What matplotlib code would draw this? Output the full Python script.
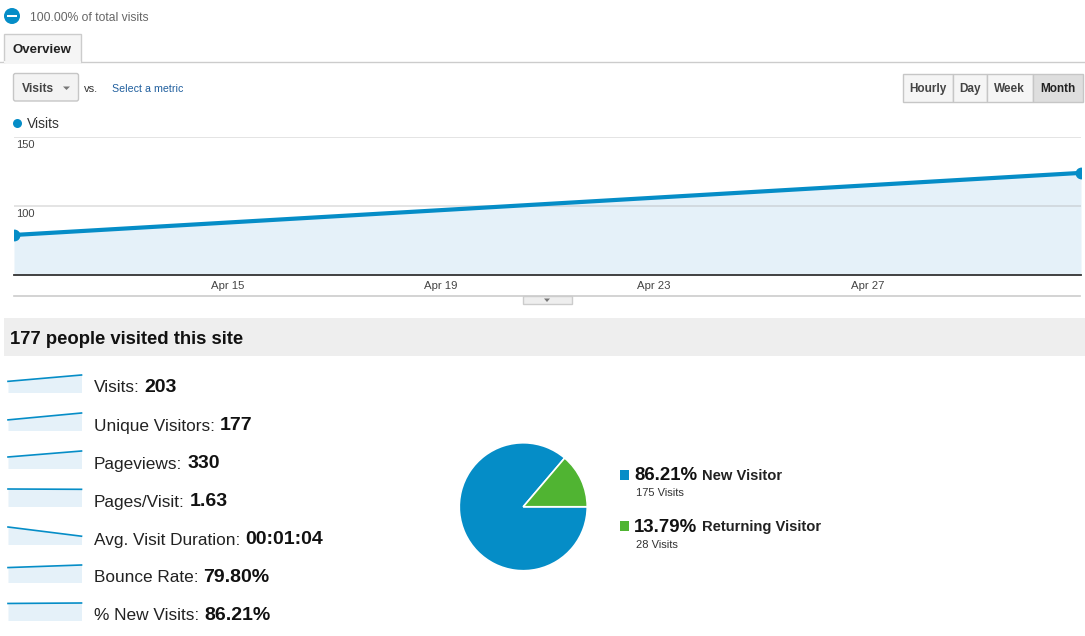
import datetime as dt
import numpy as np
import matplotlib
matplotlib.use('Agg')
import matplotlib.pyplot as plt
import matplotlib.dates as mdates
import matplotlib.transforms as mtrans
from matplotlib.patches import Rectangle, Circle, Polygon, FancyBboxPatch

plt.rcParams['font.family'] = ['Liberation Sans', 'DejaVu Sans']

W, H = 1085, 636

# ---- data ----
months = [dt.date(2012, 4, 11), dt.date(2012, 5, 1)]
visits = [79, 124]
date_ticks = [dt.date(2012, 4, 15), dt.date(2012, 4, 19), dt.date(2012, 4, 23), dt.date(2012, 4, 27)]
y_ticks = [100, 150]
y_min, y_max = 50, 150

metric_names = ['Visits', 'Unique Visitors', 'Pageviews', 'Pages/Visit',
                'Avg. Visit Duration', 'Bounce Rate', '% New Visits']
metric_totals = ['203', '177', '330', '1.63', '00:01:04', '79.80%', '86.21%']
spark_values = [[79, 124], [68, 112], [131, 199], [1.65, 1.62],
                [95, 45], [72.2, 84.6], [84.8, 87.1]]

visitor_types = ['New Visitor', 'Returning Visitor']
visitor_share = [86.21, 13.79]
visitor_visits = [175, 28]

buttons = ['Hourly', 'Day', 'Week', 'Month']
active_button = 'Month'

BLUE = '#058dc7'
GREEN = '#50b432'
FILL = '#e5f1f9'
DARK = '#222222'

fig = plt.figure(figsize=(W / 100, H / 100), dpi=100)
fig.patch.set_facecolor('white')


def px_axes(x0, y0, x1, y1, **kw):
    return fig.add_axes([x0 / W, 1 - y1 / H, (x1 - x0) / W, (y1 - y0) / H], **kw)


# overlay in pixel coordinates for the page furniture
ui = fig.add_axes([0, 0, 1, 1], zorder=0)
ui.set_xlim(0, W)
ui.set_ylim(H, 0)
ui.axis('off')

# segment header
ui.add_patch(Circle((12, 16), 8, fc=BLUE, ec='none'))
ui.add_patch(Rectangle((7, 15), 10, 2, fc='white', ec='none'))
ui.text(30, 21, '100.00% of total visits', fontsize=8.7, color='#666666', va='baseline')

# tab
ui.plot([0, 4], [62, 62], color='#cccccc', lw=1)
ui.plot([80.5, W], [62, 62], color='#cccccc', lw=1)
ui.add_patch(Rectangle((4, 33.5), 76.5, 28.5, fc='#f5f5f5', ec='#cccccc', lw=1))
ui.plot([4.5, 80], [62, 62], color='#f5f5f5', lw=1.5)
ui.text(12.5, 53, 'Overview', fontsize=9.5, fontweight='bold', color=DARK, va='baseline')

# metric picker
ui.add_patch(FancyBboxPatch((13.5, 73.5), 65, 27.5, boxstyle='round,pad=0,rounding_size=2',
                            fc='#f3f3f3', ec='#c6c6c6', lw=1))
ui.text(22, 92, 'Visits', fontsize=8.7, fontweight='bold', color='#444444', va='baseline')
ui.add_patch(Polygon([(63, 86.5), (70, 86.5), (66.5, 90)], fc='#777777', ec='none'))
ui.text(83.5, 92, 'vs.', fontsize=8, color='#333333', va='baseline')
ui.text(111.5, 92, 'Select a metric', fontsize=7.7, color='#205f9e', va='baseline')

# granularity buttons
edges = [902.5, 952.5, 986.5, 1032.5, 1082.5]
for i, name in enumerate(buttons):
    on = name == active_button
    ui.add_patch(Rectangle((edges[i], 73.5), edges[i + 1] - edges[i], 28,
                           fc='#dedede' if on else '#f5f5f5', ec='#c6c6c6', lw=1))
    ui.text((edges[i] + edges[i + 1]) / 2, 92, name, fontsize=8.5, fontweight='bold',
            color='#222222' if on else '#444444', ha='center', va='baseline')

# chart legend
ui.add_patch(Circle((17.5, 123.5), 4.5, fc=BLUE, ec='none'))
ui.text(27, 128.5, 'Visits', fontsize=10, color='#333333', va='baseline')

# ---- main line chart ----
ax = px_axes(14, 137, 1081, 275)
ax.fill_between(months, visits, y_min, color=FILL, lw=0, zorder=1)
for t in y_ticks:
    ax.axhline(t, color='#a0a0a0', alpha=0.3, lw=1.3, zorder=1.5)
    ax.annotate(str(t), xy=(0, t), xycoords=mtrans.blended_transform_factory(ax.transAxes, ax.transData),
                xytext=(2, -3), textcoords='offset pixels', fontsize=8, color='#444444',
                va='top', ha='left', zorder=4)
ax.plot(months, visits, color=BLUE, lw=3, marker='o', ms=7.5, zorder=3, solid_capstyle='butt')
ax.set_xlim(months[0], months[-1])
ax.set_ylim(y_min, y_max)
ax.set_xticks(date_ticks)
ax.xaxis.set_major_formatter(mdates.DateFormatter('%b %d'))
ax.set_yticks([])
ax.tick_params(axis='x', length=0, pad=4, labelsize=8.2, labelcolor='#444444')
for s in ['left', 'right', 'top']:
    ax.spines[s].set_visible(False)
ax.spines['bottom'].set_color('#333333')
ax.spines['bottom'].set_linewidth(1.3)
ax.set_facecolor('none')

# slider under the chart
ui.plot([14, 1080], [296, 296], color='#cccccc', lw=1.2)
ui.add_patch(Rectangle((523, 296), 49, 8, fc='#eeeeee', ec='#cccccc', lw=1))
ui.add_patch(Polygon([(544, 298.5), (550, 298.5), (547, 302)], fc='#777777', ec='none'))

# ---- summary band ----
ui.add_patch(Rectangle((4, 318), W - 4, 38, fc='#eeeeee', ec='none'))
ui.text(10.5, 344, '177 people visited this site', fontsize=13.3, fontweight='bold',
        color='#111111', va='baseline')

# ---- sparklines with totals ----
renderer = fig.canvas.get_renderer()
for i, (name, total, vals) in enumerate(zip(metric_names, metric_totals, spark_values)):
    base = 392.5 + i * 38
    sax = px_axes(8, base - 17.5, 81.5, base)
    sax.fill_between([0, 1], vals, 0, color=FILL, lw=0)
    sax.plot([0, 1], vals, color=BLUE, lw=1.2, clip_on=False)
    sax.set_xlim(0, 1)
    sax.set_ylim(0, max(vals))
    sax.axis('off')
    lab = ui.text(94, base, name + ':', fontsize=12.4, color=DARK, va='baseline')
    x1 = lab.get_window_extent(renderer).x1
    ui.text(x1 + 5, base, total, fontsize=14, fontweight='bold', color='#111111', va='baseline')

# ---- pie ----
pax = px_axes(458, 441.5, 588.5, 572)
pax.pie(visitor_share, colors=[BLUE, GREEN], startangle=visitor_share[1] / 100 * 360,
        counterclock=True, wedgeprops=dict(edgecolor='white', linewidth=1.2))
pax.set_xlim(-1.02, 1.02)
pax.set_ylim(-1.02, 1.02)
pax.set_aspect('equal')

for i, (name, share, n) in enumerate(zip(visitor_types, visitor_share, visitor_visits)):
    base = 480 + i * 51.5
    ui.add_patch(Rectangle((619.5, base - 10.5), 9.5, 10, fc=[BLUE, GREEN][i], ec='none'))
    pt = ui.text(634, base, '%.2f%%' % share, fontsize=13.4, fontweight='bold',
                 color='#111111', va='baseline')
    x1 = pt.get_window_extent(renderer).x1
    ui.text(x1 + 5, base, name, fontsize=10.6, fontweight='bold', color=DARK, va='baseline')
    ui.text(636.5, base + 16.5, '%d Visits' % n, fontsize=8, color='#333333', va='baseline')

fig.savefig('out.png', dpi=100)
